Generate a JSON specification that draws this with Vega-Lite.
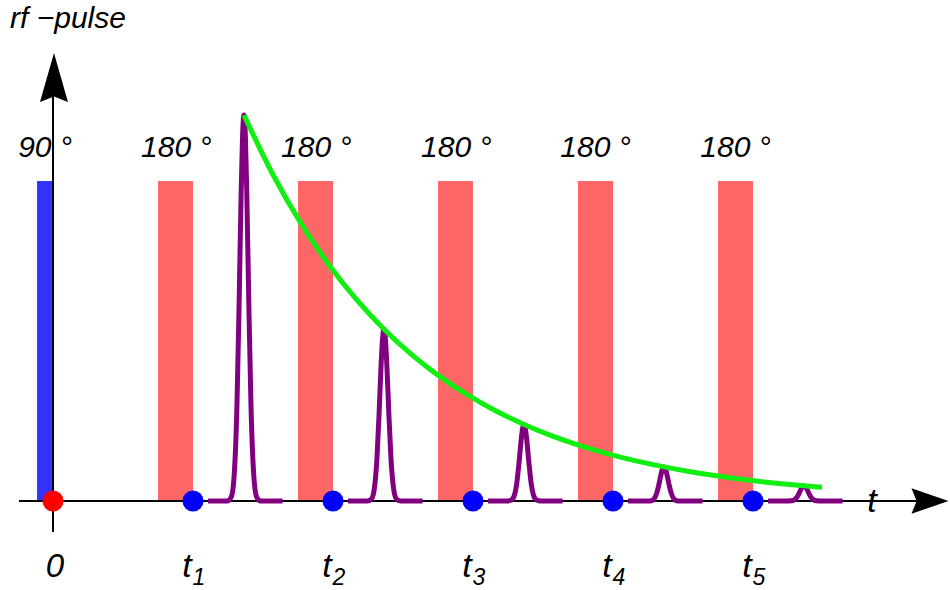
{
  "$schema": "https://vega.github.io/schema/vega-lite/v6.json",
  "width": 950,
  "height": 590,
  "autosize": {"type": "none"},
  "padding": 0,
  "background": "white",
  "config": {"view": {"stroke": null}},
  "datasets": {
    "pulse180": [
      {"x0": 0.75, "x1": 1.0}, {"x0": 1.75, "x1": 2.0}, {"x0": 2.75, "x1": 3.0}, {"x0": 3.75, "x1": 4.0}, {"x0": 4.75, "x1": 5.0}
    ],
    "pulse90": [{"x0": -0.114, "x1": 0.0}],
    "xaxis": [{"x0": -0.243, "x1": 6.19}],
    "yaxis": [{"y0": -0.097, "y1": 1.27}],
    "xarrow": [{"x": 6.264, "y": 0}],
    "yarrow": [{"x": 0.007, "y": 1.3234}],
    "echo": [
      {"k": 1, "t": 1.107, "v": 0}, {"k": 1, "t": 1.244, "v": 0}, {"k": 1, "t": 1.274, "v": 0.013}, {"k": 1, "t": 1.294, "v": 0.08}, {"k": 1, "t": 1.314, "v": 0.3}, {"k": 1, "t": 1.329, "v": 0.61}, {"k": 1, "t": 1.344, "v": 0.966}, {"k": 1, "t": 1.354, "v": 1.141}, {"k": 1, "t": 1.364, "v": 1.206}, {"k": 1, "t": 1.374, "v": 1.141}, {"k": 1, "t": 1.384, "v": 0.966}, {"k": 1, "t": 1.399, "v": 0.61}, {"k": 1, "t": 1.414, "v": 0.3}, {"k": 1, "t": 1.434, "v": 0.08}, {"k": 1, "t": 1.454, "v": 0.013}, {"k": 1, "t": 1.484, "v": 0}, {"k": 1, "t": 1.64, "v": 0},
      {"k": 2, "t": 2.107, "v": 0}, {"k": 2, "t": 2.244, "v": 0}, {"k": 2, "t": 2.274, "v": 0.006}, {"k": 2, "t": 2.294, "v": 0.035}, {"k": 2, "t": 2.314, "v": 0.134}, {"k": 2, "t": 2.329, "v": 0.272}, {"k": 2, "t": 2.344, "v": 0.43}, {"k": 2, "t": 2.354, "v": 0.508}, {"k": 2, "t": 2.364, "v": 0.537}, {"k": 2, "t": 2.374, "v": 0.508}, {"k": 2, "t": 2.384, "v": 0.43}, {"k": 2, "t": 2.399, "v": 0.272}, {"k": 2, "t": 2.414, "v": 0.134}, {"k": 2, "t": 2.434, "v": 0.035}, {"k": 2, "t": 2.454, "v": 0.006}, {"k": 2, "t": 2.484, "v": 0}, {"k": 2, "t": 2.64, "v": 0},
      {"k": 3, "t": 3.107, "v": 0}, {"k": 3, "t": 3.244, "v": 0}, {"k": 3, "t": 3.274, "v": 0.003}, {"k": 3, "t": 3.294, "v": 0.016}, {"k": 3, "t": 3.314, "v": 0.06}, {"k": 3, "t": 3.329, "v": 0.121}, {"k": 3, "t": 3.344, "v": 0.191}, {"k": 3, "t": 3.354, "v": 0.226}, {"k": 3, "t": 3.364, "v": 0.239}, {"k": 3, "t": 3.374, "v": 0.226}, {"k": 3, "t": 3.384, "v": 0.191}, {"k": 3, "t": 3.399, "v": 0.121}, {"k": 3, "t": 3.414, "v": 0.06}, {"k": 3, "t": 3.434, "v": 0.016}, {"k": 3, "t": 3.454, "v": 0.003}, {"k": 3, "t": 3.484, "v": 0}, {"k": 3, "t": 3.64, "v": 0},
      {"k": 4, "t": 4.107, "v": 0}, {"k": 4, "t": 4.244, "v": 0}, {"k": 4, "t": 4.274, "v": 0.001}, {"k": 4, "t": 4.294, "v": 0.007}, {"k": 4, "t": 4.314, "v": 0.027}, {"k": 4, "t": 4.329, "v": 0.054}, {"k": 4, "t": 4.344, "v": 0.085}, {"k": 4, "t": 4.354, "v": 0.101}, {"k": 4, "t": 4.364, "v": 0.1065}, {"k": 4, "t": 4.374, "v": 0.101}, {"k": 4, "t": 4.384, "v": 0.085}, {"k": 4, "t": 4.399, "v": 0.054}, {"k": 4, "t": 4.414, "v": 0.027}, {"k": 4, "t": 4.434, "v": 0.007}, {"k": 4, "t": 4.454, "v": 0.001}, {"k": 4, "t": 4.484, "v": 0}, {"k": 4, "t": 4.64, "v": 0},
      {"k": 5, "t": 5.107, "v": 0}, {"k": 5, "t": 5.244, "v": 0}, {"k": 5, "t": 5.274, "v": 0.0005}, {"k": 5, "t": 5.294, "v": 0.003}, {"k": 5, "t": 5.314, "v": 0.012}, {"k": 5, "t": 5.329, "v": 0.024}, {"k": 5, "t": 5.344, "v": 0.038}, {"k": 5, "t": 5.354, "v": 0.045}, {"k": 5, "t": 5.364, "v": 0.0474}, {"k": 5, "t": 5.374, "v": 0.045}, {"k": 5, "t": 5.384, "v": 0.038}, {"k": 5, "t": 5.399, "v": 0.024}, {"k": 5, "t": 5.414, "v": 0.012}, {"k": 5, "t": 5.434, "v": 0.003}, {"k": 5, "t": 5.454, "v": 0.0005}, {"k": 5, "t": 5.484, "v": 0}, {"k": 5, "t": 5.64, "v": 0}
    ],
    "decay": [
      {"t": 1.364, "v": 1.206}, {"t": 1.564, "v": 1.0258}, {"t": 1.764, "v": 0.8726}, {"t": 1.964, "v": 0.7422}, {"t": 2.164, "v": 0.6313}, {"t": 2.364, "v": 0.537}, {"t": 2.564, "v": 0.4568}, {"t": 2.764, "v": 0.3886}, {"t": 2.964, "v": 0.3305}, {"t": 3.164, "v": 0.2811}, {"t": 3.364, "v": 0.2391}, {"t": 3.564, "v": 0.2034}, {"t": 3.764, "v": 0.173}, {"t": 3.964, "v": 0.1472}, {"t": 4.164, "v": 0.1252}, {"t": 4.364, "v": 0.1065}, {"t": 4.564, "v": 0.0906}, {"t": 4.764, "v": 0.0771}, {"t": 4.964, "v": 0.0655}, {"t": 5.164, "v": 0.0557}, {"t": 5.364, "v": 0.0474}, {"t": 5.493, "v": 0.0427}
    ],
    "origin": [{"t": 0, "v": 0}],
    "times": [
      {"t": 1, "v": 0, "k": "1"}, {"t": 2, "v": 0, "k": "2"}, {"t": 3, "v": 0, "k": "3"}, {"t": 4, "v": 0, "k": "4"}, {"t": 5, "v": 0, "k": "5"}
    ],
    "pulselabels": [
      {"x": -0.057, "y": 1.075, "label": "90 °"},
      {"x": 0.88, "y": 1.075, "label": "180 °"},
      {"x": 1.88, "y": 1.075, "label": "180 °"},
      {"x": 2.88, "y": 1.075, "label": "180 °"},
      {"x": 3.875, "y": 1.075, "label": "180 °"},
      {"x": 4.875, "y": 1.075, "label": "180 °"}
    ],
    "zerolabel": [{"x": 0.014, "y": -0.2375, "label": "0"}],
    "axislabels": [
      {"x": 5.85, "y": -0.034, "label": "t"}
    ],
    "ylabel": [{"x": -0.307, "y": 1.478, "label": "rf −pulse"}]
  },
  "layer": [
    {
      "data": {"name": "pulse180"},
      "mark": {"type": "rect", "color": "#ff6666"},
      "encoding": {
        "x": {"field": "x0", "type": "quantitative", "scale": {"domain": [-0.3786, 6.4071], "nice": false, "zero": false}, "axis": null},
        "x2": {"field": "x1"},
        "y": {"datum": 0, "type": "quantitative", "scale": {"domain": [-0.278125, 1.565625], "nice": false, "zero": false}, "axis": null},
        "y2": {"datum": 1}
      }
    },
    {
      "data": {"name": "pulse90"},
      "mark": {"type": "rect", "color": "#3333ff"},
      "encoding": {
        "x": {"field": "x0", "type": "quantitative", "axis": null},
        "x2": {"field": "x1"},
        "y": {"datum": 0, "type": "quantitative", "axis": null},
        "y2": {"datum": 1}
      }
    },
    {
      "data": {"name": "xaxis"},
      "mark": {"type": "rule", "color": "black", "strokeWidth": 2},
      "encoding": {
        "x": {"field": "x0", "type": "quantitative", "axis": null},
        "x2": {"field": "x1"},
        "y": {"datum": 0, "type": "quantitative", "axis": null}
      }
    },
    {
      "data": {"name": "yaxis"},
      "mark": {"type": "rule", "color": "black", "strokeWidth": 2},
      "encoding": {
        "x": {"datum": 0, "type": "quantitative", "axis": null},
        "y": {"field": "y0", "type": "quantitative", "axis": null},
        "y2": {"field": "y1"}
      }
    },
    {
      "data": {"name": "xarrow"},
      "mark": {"type": "point", "shape": "M1,0 L-1,-0.694 L-0.72,0 L-1,0.694 Z", "size": 1369, "filled": true, "color": "black", "opacity": 1},
      "encoding": {
        "x": {"field": "x", "type": "quantitative", "axis": null},
        "y": {"field": "y", "type": "quantitative", "axis": null}
      }
    },
    {
      "data": {"name": "yarrow"},
      "mark": {"type": "point", "shape": "M0,-1 L0.571,1 L0,0.78 L-0.571,1 Z", "size": 2401, "filled": true, "color": "black", "opacity": 1},
      "encoding": {
        "x": {"field": "x", "type": "quantitative", "axis": null},
        "y": {"field": "y", "type": "quantitative", "axis": null}
      }
    },
    {
      "data": {"name": "echo"},
      "mark": {"type": "line", "color": "#800080", "strokeWidth": 5, "interpolate": "monotone", "strokeJoin": "round"},
      "encoding": {
        "x": {"field": "t", "type": "quantitative", "axis": null},
        "y": {"field": "v", "type": "quantitative", "axis": null},
        "detail": {"field": "k", "type": "nominal"}
      }
    },
    {
      "data": {"name": "decay"},
      "mark": {"type": "line", "color": "#11ee11", "strokeWidth": 5, "interpolate": "monotone"},
      "encoding": {
        "x": {"field": "t", "type": "quantitative", "axis": null},
        "y": {"field": "v", "type": "quantitative", "axis": null}
      }
    },
    {
      "data": {"name": "origin"},
      "mark": {"type": "circle", "color": "#ff0000", "size": 440, "opacity": 1},
      "encoding": {
        "x": {"field": "t", "type": "quantitative", "axis": null},
        "y": {"field": "v", "type": "quantitative", "axis": null}
      }
    },
    {
      "data": {"name": "times"},
      "mark": {"type": "circle", "color": "#0000ff", "size": 440, "opacity": 1},
      "encoding": {
        "x": {"field": "t", "type": "quantitative", "axis": null},
        "y": {"field": "v", "type": "quantitative", "axis": null}
      }
    },
    {
      "data": {"name": "pulselabels"},
      "mark": {"type": "text", "font": "Liberation Sans", "fontStyle": "italic", "fontSize": 30, "align": "center", "baseline": "alphabetic", "color": "black"},
      "encoding": {
        "x": {"field": "x", "type": "quantitative", "axis": null},
        "y": {"field": "y", "type": "quantitative", "axis": null},
        "text": {"field": "label"}
      }
    },
    {
      "data": {"name": "zerolabel"},
      "mark": {"type": "text", "font": "Liberation Sans", "fontStyle": "italic", "fontSize": 33, "align": "center", "baseline": "alphabetic", "color": "black"},
      "encoding": {
        "x": {"field": "x", "type": "quantitative", "axis": null},
        "y": {"field": "y", "type": "quantitative", "axis": null},
        "text": {"field": "label"}
      }
    },
    {
      "data": {"name": "times"},
      "mark": {"type": "text", "font": "Liberation Sans", "fontStyle": "italic", "fontSize": 34, "align": "center", "baseline": "alphabetic", "color": "black", "dx": -6, "dy": 76},
      "encoding": {
        "x": {"field": "t", "type": "quantitative", "axis": null},
        "y": {"field": "v", "type": "quantitative", "axis": null},
        "text": {"value": "t"}
      }
    },
    {
      "data": {"name": "times"},
      "mark": {"type": "text", "font": "Liberation Sans", "fontStyle": "italic", "fontSize": 23, "align": "center", "baseline": "alphabetic", "color": "black", "dx": 6, "dy": 84},
      "encoding": {
        "x": {"field": "t", "type": "quantitative", "axis": null},
        "y": {"field": "v", "type": "quantitative", "axis": null},
        "text": {"field": "k"}
      }
    },
    {
      "data": {"name": "axislabels"},
      "mark": {"type": "text", "font": "Liberation Sans", "fontStyle": "italic", "fontSize": 34, "align": "center", "baseline": "alphabetic", "color": "black"},
      "encoding": {
        "x": {"field": "x", "type": "quantitative", "axis": null},
        "y": {"field": "y", "type": "quantitative", "axis": null},
        "text": {"field": "label"}
      }
    },
    {
      "data": {"name": "ylabel"},
      "mark": {"type": "text", "font": "Liberation Sans", "fontStyle": "italic", "fontSize": 30, "align": "left", "baseline": "alphabetic", "color": "black"},
      "encoding": {
        "x": {"field": "x", "type": "quantitative", "axis": null},
        "y": {"field": "y", "type": "quantitative", "axis": null},
        "text": {"field": "label"}
      }
    }
  ]
}
